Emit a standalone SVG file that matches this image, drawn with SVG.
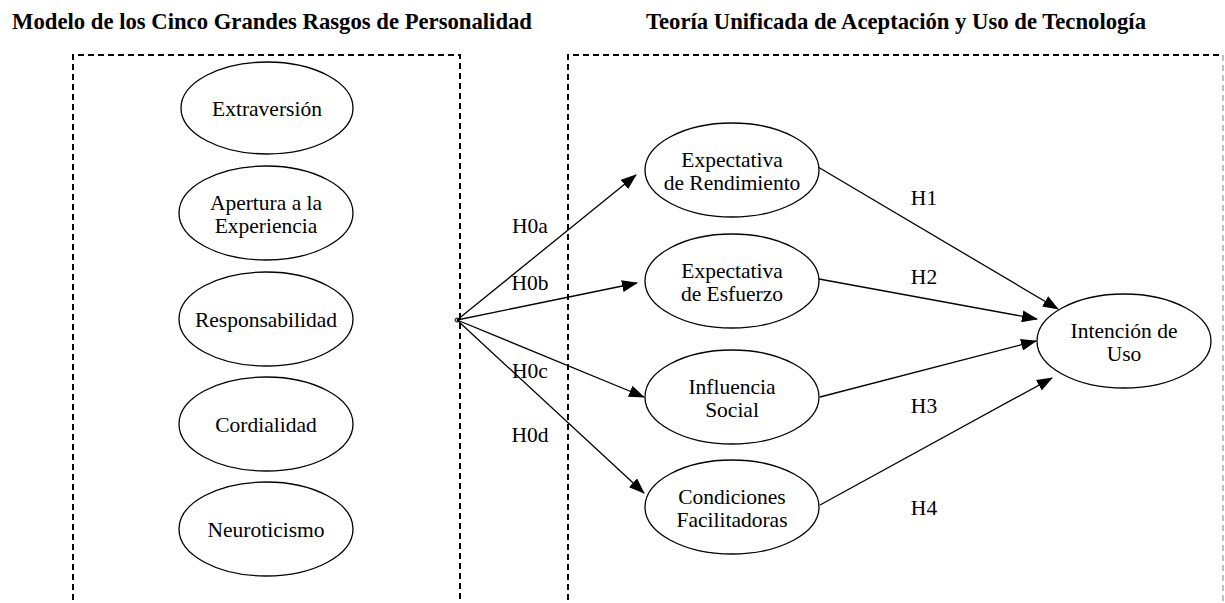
<svg xmlns="http://www.w3.org/2000/svg" width="1225" height="603" viewBox="0 0 1225 603">
<style>
.title{font-family:"Liberation Serif","Times New Roman",serif;font-weight:bold;font-size:23px;fill:#000}
.lbl{font-family:"Liberation Serif","Times New Roman",serif;font-size:21.5px;fill:#000;text-anchor:middle}
.el{fill:#fff;stroke:#000;stroke-width:1.3}
.box{fill:none;stroke:#000;stroke-width:2;stroke-dasharray:6,4}
.edge{fill:none;stroke:#000;stroke-width:1.3;marker-end:url(#ah)}
</style>
<defs>
<marker id="ah" markerWidth="16" markerHeight="12" refX="15" refY="6" orient="auto" markerUnits="userSpaceOnUse">
<path d="M0,0 L16,6 L0,12 Z" fill="#000"/>
</marker>
</defs>
<rect width="1225" height="603" fill="#fff"/>
<text class="title" x="12" y="29" textLength="520" lengthAdjust="spacingAndGlyphs">Modelo de los Cinco Grandes Rasgos de Personalidad</text>
<text class="title" x="646" y="29" textLength="500" lengthAdjust="spacingAndGlyphs">Teoría Unificada de Aceptación y Uso de Tecnología</text>
<g id="boxes">
<path class="box" d="M73,610 V55 H460 V610"/>
<path class="box" d="M568,610 V55 H1223"/>
<path d="M1223,55 V610" fill="none" stroke="#aaa" stroke-width="1.5" stroke-dasharray="6,4"/>
</g>
<g id="connectors">
<line class="edge" x1="457" y1="320" x2="636" y2="175"/>
<line class="edge" x1="457" y1="320" x2="637" y2="283"/>
<line class="edge" x1="457" y1="320" x2="644" y2="397"/>
<line class="edge" x1="457" y1="320" x2="644" y2="493"/>
<line class="edge" x1="818" y1="167" x2="1058" y2="309"/>
<line class="edge" x1="819" y1="279" x2="1037" y2="319"/>
<line class="edge" x1="820" y1="397" x2="1036" y2="341"/>
<line class="edge" x1="820" y1="505" x2="1052" y2="378"/>
<circle cx="457" cy="320" r="2" fill="none" stroke="#000" stroke-width="1"/>
</g>
<g id="edge-labels">
<text class="lbl" x="530" y="233">H0a</text>
<text class="lbl" x="530" y="290">H0b</text>
<text class="lbl" x="530" y="378">H0c</text>
<text class="lbl" x="530" y="442">H0d</text>
<text class="lbl" x="924" y="205">H1</text>
<text class="lbl" x="924" y="284">H2</text>
<text class="lbl" x="924" y="413">H3</text>
<text class="lbl" x="924" y="515">H4</text>
</g>
<g id="extraversion"><ellipse class="el" cx="267" cy="108" rx="86" ry="46"/><text class="lbl" x="267" y="116">Extraversión</text></g>
<g id="apertura"><ellipse class="el" cx="266" cy="213" rx="87" ry="47"/><text class="lbl" x="266" y="210">Apertura a la</text><text class="lbl" x="266" y="233">Experiencia</text></g>
<g id="responsabilidad"><ellipse class="el" cx="266" cy="319" rx="87" ry="47"/><text class="lbl" x="266" y="327">Responsabilidad</text></g>
<g id="cordialidad"><ellipse class="el" cx="266" cy="424" rx="87" ry="47"/><text class="lbl" x="266" y="432">Cordialidad</text></g>
<g id="neuroticismo"><ellipse class="el" cx="266" cy="529" rx="87" ry="47"/><text class="lbl" x="266" y="537">Neuroticismo</text></g>
<g id="exp-rendimiento"><ellipse class="el" cx="732" cy="170" rx="87" ry="47"/><text class="lbl" x="732" y="167">Expectativa</text><text class="lbl" x="732" y="190">de Rendimiento</text></g>
<g id="exp-esfuerzo"><ellipse class="el" cx="732" cy="281" rx="87" ry="47"/><text class="lbl" x="732" y="278">Expectativa</text><text class="lbl" x="732" y="301">de Esfuerzo</text></g>
<g id="influencia-social"><ellipse class="el" cx="732" cy="397" rx="87" ry="47"/><text class="lbl" x="732" y="394">Influencia</text><text class="lbl" x="732" y="417">Social</text></g>
<g id="condiciones"><ellipse class="el" cx="732" cy="507" rx="87" ry="47"/><text class="lbl" x="732" y="504">Condiciones</text><text class="lbl" x="732" y="527">Facilitadoras</text></g>
<g id="intencion-uso"><ellipse class="el" cx="1124" cy="341" rx="87" ry="47"/><text class="lbl" x="1124" y="338">Intención de</text><text class="lbl" x="1124" y="361">Uso</text></g>
</svg>
